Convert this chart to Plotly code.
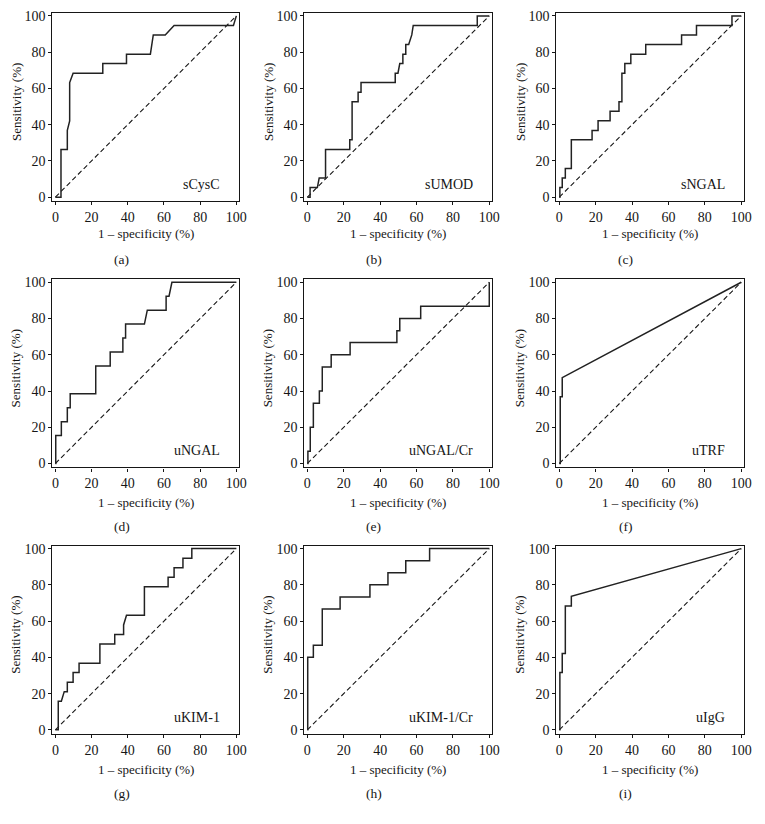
import plotly.graph_objects as go

# ---- data: ROC curve vertices (1 - specificity %, sensitivity %) ----
scysc_fpr = [0, 3.1, 3.1, 6.6, 6.6, 7.9, 7.9, 9.8, 26.2, 26.2, 39.3, 39.3, 52.5, 54.1, 60.7, 65.6, 98.4, 100]
scysc_sens = [0, 0, 26.3, 26.3, 36.8, 42.1, 63.2, 68.4, 68.4, 73.7, 73.7, 78.9, 78.9, 89.5, 89.5, 94.7, 94.7, 100]

sumod_fpr = [0, 1.5, 1.5, 5.5, 6.5, 10, 10, 23.3, 23.3, 24.6, 24.6, 27.9, 27.9, 29.5, 29.5, 48.3, 48.3, 49.8, 50.8, 52.5, 52.5, 54.1, 54.1, 55.7, 57.4, 58.2, 93.4, 93.4, 100]
sumod_sens = [0, 0, 5.3, 5.3, 10.5, 10.5, 26.3, 26.3, 31.6, 31.6, 52.6, 52.6, 57.9, 57.9, 63.2, 63.2, 68.4, 68.4, 73.7, 73.7, 78.9, 78.9, 84.2, 84.2, 89.5, 94.7, 94.7, 100, 100]

sngal_fpr = [0, 0.3, 0.3, 1.6, 1.6, 3.3, 3.3, 6.6, 6.6, 18, 18, 21.3, 21.3, 27.9, 27.9, 32.8, 32.8, 34.4, 34.4, 36, 36, 39.3, 39.3, 47.5, 47.5, 67.2, 67.2, 75.4, 75.4, 94.9, 94.9, 100]
sngal_sens = [0, 0, 5.3, 5.3, 10.5, 10.5, 15.8, 15.8, 31.6, 31.6, 36.8, 36.8, 42.1, 42.1, 47.4, 47.4, 52.6, 52.6, 68.4, 68.4, 73.7, 73.7, 78.9, 78.9, 84.2, 84.2, 89.5, 89.5, 94.7, 94.7, 100, 100]

ungal_fpr = [0, 0.2, 0.2, 3.3, 3.3, 6.6, 6.6, 8.2, 8.2, 22.3, 22.3, 30.3, 30.3, 37.3, 37.3, 38.8, 38.8, 49.2, 50.8, 61.2, 61.2, 62.8, 64.4, 100]
ungal_sens = [0, 0, 15.4, 15.4, 23.1, 23.1, 30.8, 30.8, 38.5, 38.5, 53.8, 53.8, 61.5, 61.5, 69.2, 69.2, 76.9, 76.9, 84.6, 84.6, 92.3, 92.3, 100, 100]

ungalcr_fpr = [0, 0.3, 0.3, 1.6, 1.6, 3.3, 3.3, 6.6, 6.6, 8.2, 8.2, 13.1, 13.1, 23.5, 23.5, 49.2, 49.2, 50.8, 50.8, 62.3, 62.3, 100, 100]
ungalcr_sens = [0, 0, 6.7, 6.7, 20, 20, 33.3, 33.3, 40, 40, 53.3, 53.3, 60, 60, 66.7, 66.7, 73.3, 73.3, 80, 80, 86.7, 86.7, 100]

utrf_fpr = [0, 0.5, 0.5, 1.6, 1.6, 100]
utrf_sens = [0, 0, 36.8, 36.8, 47.4, 100]

ukim_fpr = [0, 1.6, 1.6, 3.3, 4.9, 6.6, 6.6, 9.8, 9.8, 13.1, 13.1, 24.6, 24.6, 32.8, 32.8, 37.7, 37.7, 39.3, 49.2, 49.2, 62.3, 62.3, 65.6, 65.6, 70.5, 70.5, 75.4, 75.4, 100]
ukim_sens = [0, 0, 15.8, 15.8, 21.1, 21.1, 26.3, 26.3, 31.6, 31.6, 36.8, 36.8, 47.4, 47.4, 52.6, 52.6, 57.9, 63.2, 63.2, 78.9, 78.9, 84.2, 84.2, 89.5, 89.5, 94.7, 94.7, 100, 100]

ukimcr_fpr = [0, 0.2, 0.2, 3.3, 3.3, 8.2, 8.2, 18, 18, 34.4, 34.4, 44.3, 44.3, 54.1, 54.1, 67.2, 67.2, 100]
ukimcr_sens = [0, 0, 40, 40, 46.7, 46.7, 66.7, 66.7, 73.3, 73.3, 80, 80, 86.7, 86.7, 93.3, 93.3, 100, 100]

uigg_fpr = [0, 0.3, 0.3, 1.6, 1.6, 3.3, 3.3, 6.6, 6.6, 100]
uigg_sens = [0, 0, 31.6, 31.6, 42.1, 42.1, 68.4, 68.4, 73.7, 100]

marker_names = ["sCysC", "sUMOD", "sNGAL", "uNGAL", "uNGAL/Cr", "uTRF", "uKIM-1", "uKIM-1/Cr", "uIgG"]
panel_letters = ["(a)", "(b)", "(c)", "(d)", "(e)", "(f)", "(g)", "(h)", "(i)"]
curves_x = [scysc_fpr, sumod_fpr, sngal_fpr, ungal_fpr, ungalcr_fpr, utrf_fpr, ukim_fpr, ukimcr_fpr, uigg_fpr]
curves_y = [scysc_sens, sumod_sens, sngal_sens, ungal_sens, ungalcr_sens, utrf_sens, ukim_sens, ukimcr_sens, uigg_sens]
ref_line = [0, 100]
tick_vals = [0, 20, 40, 60, 80, 100]

# ---- layout geometry (page pixels; page body has an 8px margin) ----
OFF = 8
W, H = 765 - OFF, 824 - OFF
col_px = [(52, 241), (307, 497), (562, 752)]
row_px = [(9, 199), (278, 468), (547, 737)]
letter_y = [258, 528, 797]
xtitle_y = [232, 503, 773]
col_offset = [0, 255, 510]


def px_x(v):
    return (v - OFF) / W


def px_y(v):
    return 1 - (v - OFF) / H


FONT = "Liberation Serif"
INK = "#161616"
fig = go.Figure()
layout = dict(
    width=W, height=H, margin=dict(l=0, r=0, t=0, b=0),
    paper_bgcolor="white", plot_bgcolor="white", showlegend=False,
    font=dict(family=FONT, size=13, color=INK),
)
annotations = []

for i in range(9):
    r, c = divmod(i, 3)
    n = "" if i == 0 else str(i + 1)
    xa, ya = "x" + n, "y" + n
    fig.add_trace(go.Scatter(x=ref_line, y=ref_line, mode="lines", xaxis=xa, yaxis=ya,
                             line=dict(color=INK, width=1.1, dash="5px,3px")))
    fig.add_trace(go.Scatter(x=curves_x[i], y=curves_y[i], mode="lines", xaxis=xa, yaxis=ya,
                             line=dict(color="#222222", width=1.5)))
    x0, x1 = col_px[c]
    y0, y1 = row_px[r]
    axis_common = dict(showline=True, mirror=True, linecolor=INK, linewidth=1.2,
                       showgrid=False, zeroline=False, ticks="outside", ticklen=3,
                       tickcolor=INK, tickvals=tick_vals,
                       tickfont=dict(family=FONT, size=14, color=INK))
    layout["xaxis" + n] = dict(axis_common, domain=[px_x(x0), px_x(x1)], range=[-1.6, 101.6],
                               anchor=ya)
    layout["yaxis" + n] = dict(axis_common, domain=[px_y(y1), px_y(y0)], range=[-2.2, 101.6],
                               anchor=xa)
    # marker label inside plot
    annotations.append(dict(text=marker_names[i], x=92, y=7, xref=xa, yref=ya,
                            xanchor="right", yanchor="middle", showarrow=False,
                            font=dict(family=FONT, size=14, color=INK)))
    # x axis title
    annotations.append(dict(text="1 \u2013 specificity (%)", x=px_x((x0 + x1) / 2), y=px_y(xtitle_y[r]),
                            xref="paper", yref="paper", xanchor="center", yanchor="middle",
                            showarrow=False, font=dict(family=FONT, size=13, color=INK)))
    # y axis title
    annotations.append(dict(text="Sensitivity (%)", x=px_x(col_offset[c] + 15), y=px_y((y0 + y1) / 2 - 5),
                            xref="paper", yref="paper", xanchor="center", yanchor="middle",
                            textangle=-90, showarrow=False,
                            font=dict(family=FONT, size=13, color=INK)))
    # panel letter
    annotations.append(dict(text=panel_letters[i], x=px_x(col_offset[c] + 122), y=px_y(letter_y[r]),
                            xref="paper", yref="paper", xanchor="center", yanchor="middle",
                            showarrow=False, font=dict(family=FONT, size=13.5, color=INK)))

layout["annotations"] = annotations
fig.update_layout(**layout)
fig.write_html("out.html")
